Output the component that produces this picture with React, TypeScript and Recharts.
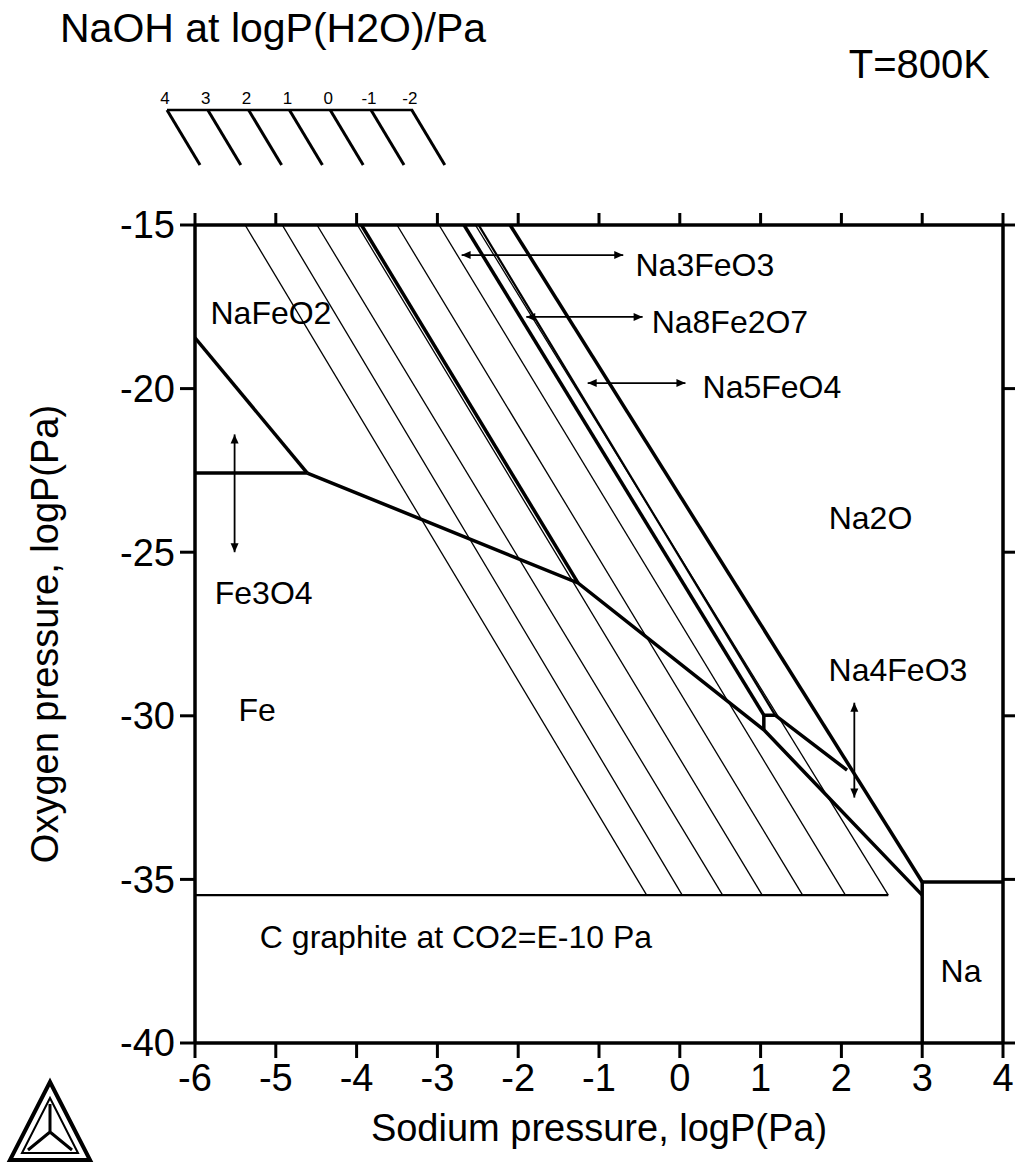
import React from 'react';
import { ComposedChart, Line, Scatter, XAxis, YAxis } from 'recharts';

document.body.style.margin = '0';

const FONT = '"Liberation Sans", Arial, sans-serif';

// axis ticks
const xTicks = [-6, -5, -4, -3, -2, -1, 0, 1, 2, 3, 4];
const yTicks = [-40, -35, -30, -25, -20, -15];
// corners of the frame, used so the top and right axes have data of their own
const frameCorners = [{ x: -6, y: -40 }, { x: 4, y: -15 }];

// NaOH isobars: x where each line meets the top edge and the graphite line
const isobarTopX = [-5.38, -4.92, -4.49, -3.99, -3.5, -2.98, -2.53];
const isobarBottomX = [-0.41, 0.03, 0.53, 1.02, 1.52, 2.05, 2.58];
const TOP_Y = -15;
const GRAPHITE_Y = -35.48;
const legendLabels = ['4', '3', '2', '1', '0', '-1', '-2'];

// phase boundaries (logP(Na), logP(O2))
const nafeo2Fe3o4 = [{ x: -6, y: -18.45 }, { x: -4.61, y: -22.58 }];
const fe3o4Floor = [{ x: -6, y: -22.58 }, { x: -4.61, y: -22.58 }];
const feBoundary = [
  { x: -4.61, y: -22.58 },
  { x: -1.26, y: -25.94 },
  { x: 1.04, y: -30.43 },
  { x: 3, y: -35.48 },
];
const na3feo3Line = [{ x: -3.94, y: -15 }, { x: -1.26, y: -25.94 }];
const na8fe2o7Line = [{ x: -2.67, y: -15 }, { x: 1.04, y: -29.98 }];
const na5feo4Line = [{ x: -2.49, y: -15 }, { x: 1.18, y: -29.98 }];
const na4feo3Line = [
  { x: 1.04, y: -30.43 },
  { x: 1.04, y: -29.98 },
  { x: 1.18, y: -29.98 },
  { x: 2.07, y: -31.66 },
];
const na2oLine = [{ x: -2.1, y: -15 }, { x: 3, y: -35.08 }];
const naBoxTop = [{ x: 3, y: -35.08 }, { x: 4, y: -35.08 }];
const naBoxSide = [{ x: 3, y: -35.08 }, { x: 3, y: -40 }];
const graphiteLine = [{ x: -6, y: GRAPHITE_Y }, { x: 2.58, y: GRAPHITE_Y }];

// double-headed arrows
const arrowFe3o4 = [{ x: -5.51, y: -21.4, head: 'up' }, { x: -5.51, y: -25.0, head: 'down' }];
const arrowNa3feo3 = [{ x: -2.7, y: -15.92, head: 'left' }, { x: -0.7, y: -15.92, head: 'right' }];
const arrowNa8fe2o7 = [{ x: -1.9, y: -17.81, head: 'left' }, { x: -0.46, y: -17.81, head: 'right' }];
const arrowNa5feo4 = [{ x: -1.14, y: -19.83, head: 'left' }, { x: 0.07, y: -19.83, head: 'right' }];
const arrowNa4feo3 = [{ x: 2.16, y: -29.6, head: 'up' }, { x: 2.16, y: -32.5, head: 'down' }];

// region labels
const labels = [
  { x: -5.06, y: -17.69, text: 'NaFeO2' },
  { x: -5.15, y: -26.25, text: 'Fe3O4' },
  { x: -5.23, y: -29.82, text: 'Fe' },
  { x: 0.31, y: -16.22, text: 'Na3FeO3' },
  { x: 0.62, y: -17.96, text: 'Na8Fe2O7' },
  { x: 1.14, y: -19.95, text: 'Na5FeO4' },
  { x: 2.36, y: -23.95, text: 'Na2O' },
  { x: 2.7, y: -28.6, text: 'Na4FeO3' },
  { x: -2.77, y: -36.76, text: 'C graphite at CO2=E-10 Pa' },
  { x: 3.48, y: -37.8, text: 'Na' },
];

const isobars = isobarTopX.map((x0, i) => [
  { x: x0, y: TOP_Y },
  { x: isobarBottomX[i], y: GRAPHITE_Y },
]);

const thickLines = [
  nafeo2Fe3o4, fe3o4Floor, feBoundary, na3feo3Line, na8fe2o7Line,
  na4feo3Line, na2oLine, naBoxTop, naBoxSide,
];
const mediumLines = [na5feo4Line, graphiteLine];
const arrows = [arrowFe3o4, arrowNa3feo3, arrowNa8fe2o7, arrowNa5feo4, arrowNa4feo3];

// arrowhead drawn at the end points of an arrow series
const ArrowHead = (props: any) => {
  const { cx, cy, payload, index } = props;
  const s = 9;
  const w = 4;
  let d = '';
  if (payload.head === 'right') d = `M${cx},${cy} L${cx - s},${cy - w} L${cx - s},${cy + w} Z`;
  if (payload.head === 'left') d = `M${cx},${cy} L${cx + s},${cy - w} L${cx + s},${cy + w} Z`;
  if (payload.head === 'up') d = `M${cx},${cy} L${cx - w},${cy + s} L${cx + w},${cy + s} Z`;
  if (payload.head === 'down') d = `M${cx},${cy} L${cx - w},${cy - s} L${cx + w},${cy - s} Z`;
  return <path key={`ah-${index}`} d={d} fill="#000" stroke="none" />;
};

const LabelText = (props: any) => {
  const { cx, cy, payload } = props;
  return (
    <text x={cx} y={cy} textAnchor="middle" dominantBaseline="central"
      fontSize={32} fontFamily={FONT} fill="#000">
      {payload.text}
    </text>
  );
};

const axisLine = { stroke: '#000', strokeWidth: 3.5 };
const tickLine = { stroke: '#000', strokeWidth: 3 };
const tickStyle = { fontSize: 38, fill: '#000', fontFamily: FONT };
const noLabel = () => '';

export default function App() {
  return (
    <div style={{ position: 'relative', width: 1016, height: 1170, background: '#fff' }}>
      <ComposedChart
        width={1016}
        height={1170}
        margin={{ top: 205, right: 0, bottom: 67, left: 135 }}
      >
        <XAxis
          dataKey="x" type="number" domain={[-6, 4]} ticks={xTicks}
          allowDataOverflow height={60} tickSize={15} tickMargin={6}
          axisLine={axisLine} tickLine={tickLine} tick={tickStyle}
        />
        <XAxis
          xAxisId="top" orientation="top" dataKey="x" type="number" domain={[-6, 4]}
          allowDataOverflow ticks={xTicks} height={20} tickSize={12} axisLine={axisLine}
          tickLine={tickLine} tickFormatter={noLabel}
        />
        <YAxis
          dataKey="y" type="number" domain={[-40, -15]} ticks={yTicks}
          allowDataOverflow width={60} tickSize={15} tickMargin={5}
          axisLine={axisLine} tickLine={tickLine} tick={tickStyle}
        />
        <YAxis
          yAxisId="right" orientation="right" dataKey="y" type="number" domain={[-40, -15]}
          allowDataOverflow ticks={yTicks} width={13} tickSize={12} axisLine={axisLine}
          tickLine={tickLine} tickFormatter={noLabel}
        />

        <Line data={frameCorners} dataKey="y" xAxisId="top" yAxisId="right" stroke="none"
          dot={false} activeDot={false} isAnimationActive={false} />

        {isobars.map((pts, i) => (
          <Line key={`iso-${i}`} data={pts} dataKey="y" type="linear" stroke="#000"
            strokeWidth={1.3} dot={false} isAnimationActive={false} />
        ))}
        {mediumLines.map((pts, i) => (
          <Line key={`med-${i}`} data={pts} dataKey="y" type="linear" stroke="#000"
            strokeWidth={2.2} dot={false} isAnimationActive={false} />
        ))}
        {thickLines.map((pts, i) => (
          <Line key={`thk-${i}`} data={pts} dataKey="y" type="linear" stroke="#000"
            strokeWidth={3.5} dot={false} isAnimationActive={false} />
        ))}
        {arrows.map((pts, i) => (
          <Line key={`arr-${i}`} data={pts} dataKey="y" type="linear" stroke="#000"
            strokeWidth={1.8} dot={ArrowHead} activeDot={false} isAnimationActive={false} />
        ))}
        <Scatter data={labels} dataKey="y" shape={LabelText} isAnimationActive={false} />
      </ComposedChart>

      {/* titles, NaOH legend and logo */}
      <svg width={1016} height={1170} style={{ position: 'absolute', left: 0, top: 0, pointerEvents: 'none' }}>
        <text x={60} y={42} fontSize={41} fontFamily={FONT} fill="#000">NaOH at logP(H2O)/Pa</text>
        <text x={990} y={78} fontSize={40} fontFamily={FONT} fill="#000" textAnchor="end">T=800K</text>
        {legendLabels.map((l, i) => (
          <text key={l} x={165 + i * 40.8} y={104} fontSize={17} fontFamily={FONT} fill="#000"
            textAnchor="middle">{l}</text>
        ))}
        <line x1={167} y1={110} x2={413} y2={110} stroke="#000" strokeWidth={2.5} />
        {legendLabels.map((l, i) => (
          <line key={`ld-${l}`} x1={167 + i * 40.8} y1={110} x2={200 + i * 40.8} y2={165}
            stroke="#000" strokeWidth={3} />
        ))}
        <text x={599} y={1141} fontSize={38} fontFamily={FONT} fill="#000" textAnchor="middle">
          Sodium pressure, logP(Pa)
        </text>
        <text x={0} y={0} fontSize={38} fontFamily={FONT} fill="#000" textAnchor="middle"
          transform="translate(58,634) rotate(-90)">
          Oxygen pressure, logP(Pa)
        </text>
        <g fill="none" stroke="#000">
          <polygon points="50,1082 10,1160 90,1160" strokeWidth={4} />
          <polygon points="50,1098 22,1153 78,1153" strokeWidth={2} />
          <path d="M50,1104 L50,1132 M50,1132 L28,1150 M50,1132 L72,1150" strokeWidth={3} />
        </g>
      </svg>
    </div>
  );
}
